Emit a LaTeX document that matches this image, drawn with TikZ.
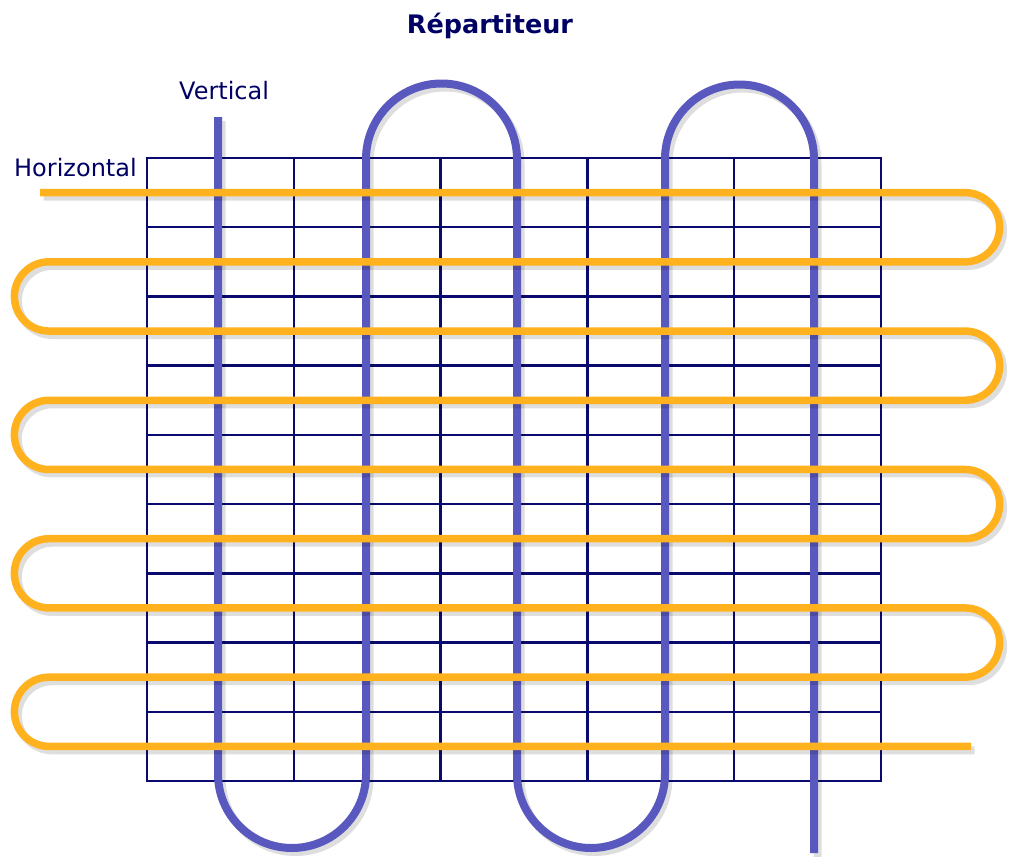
\documentclass[tikz,border=0pt]{standalone}
\usepackage{fontspec}
\setmainfont{DejaVu Sans}

\definecolor{navy}{RGB}{0,0,100}
\definecolor{gridblue}{RGB}{10,10,110}
\definecolor{wireblue}{RGB}{88,88,190}
\definecolor{wireorange}{RGB}{255,178,30}

\begin{document}
\begin{tikzpicture}[x=1pt,y=-1pt,
    gridline/.style={gridblue, line width=2.4pt},
    vwire/.style={wireblue, line width=8pt},
    hwire/.style={wireorange, line width=7.5pt},
    shade/.style={black, opacity=0.13, line width=8pt, shift={(3.5,4)}},
    label/.style={navy, inner sep=0pt, font=\fontsize{24}{28}\selectfont}]
    \useasboundingbox (0,0) rectangle (1013,857);

    \node[navy, inner sep=0pt, anchor=base, font=\fontsize{25.5}{30}\selectfont\bfseries] (title) at (490,33) {Répartiteur};
    \node[label, anchor=base west] (vlabel) at (179,99) {Vertical};
    \node[label, anchor=base west] (hlabel) at (14,176) {Horizontal};

    % grid
    \draw[gridline] (147,158) rectangle (881,781);
    \foreach \i in {1,...,4}
        \draw[gridline] (147+146.8*\i,158) -- (147+146.8*\i,781);
    \foreach \j in {1,...,17}
        \draw[gridline] (147,158+34.61*\j) -- (881,158+34.61*\j);

    % vertical wire
    \foreach \s in {shade,vwire}
        \draw[\s] (218,117) -- (218,774) arc[start angle=180,end angle=0,radius=74]
            -- (366,159) arc[start angle=180,end angle=360,radius=75.5]
            -- (517,774) arc[start angle=180,end angle=0,radius=74]
            -- (665,159) arc[start angle=180,end angle=360,radius=74.5]
            -- (814,853);

    % horizontal wire
    \foreach \s in {shade,hwire}
        \draw[\s] (40,192.61) -- (965,192.61) arc[start angle=-90,end angle=90,radius=34.61]
            -- (49,261.83) arc[start angle=270,end angle=90,radius=34.61]
            -- (965,331.05) arc[start angle=-90,end angle=90,radius=34.61]
            -- (49,400.27) arc[start angle=270,end angle=90,radius=34.61]
            -- (965,469.49) arc[start angle=-90,end angle=90,radius=34.61]
            -- (49,538.71) arc[start angle=270,end angle=90,radius=34.61]
            -- (965,607.93) arc[start angle=-90,end angle=90,radius=34.61]
            -- (49,677.15) arc[start angle=270,end angle=90,radius=34.61]
            -- (971,746.37);
\end{tikzpicture}
\end{document}
